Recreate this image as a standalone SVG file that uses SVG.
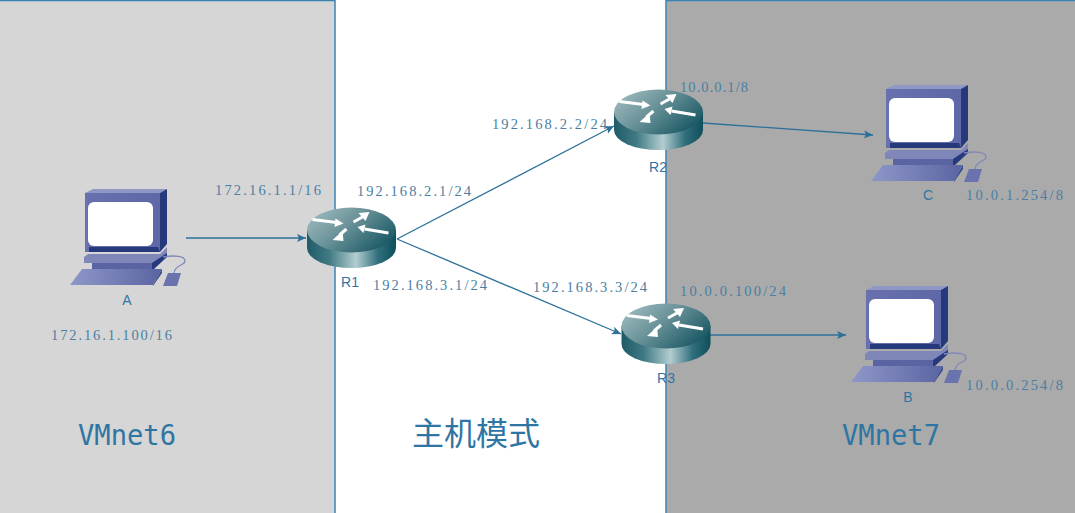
<svg xmlns="http://www.w3.org/2000/svg" width="1075" height="513" viewBox="0 0 1075 513">
<style>
.ip{font-family:"Liberation Serif","Noto Sans CJK SC",serif;font-size:14.5px;fill:#4a7fa3}
.nm{font-family:"Liberation Sans","Noto Sans CJK SC",sans-serif;font-size:14px;fill:#2f75a3;text-anchor:middle}
.big{font-family:"DejaVu Sans Mono","Noto Sans CJK SC",monospace;font-size:28px;fill:#2f75a3}
.cjk{font-family:"Noto Sans CJK SC",sans-serif;font-size:32px;fill:#2f75a3}
.panel{stroke:#3b83b5;stroke-width:1.5}
.cn{stroke:#2d7199;stroke-width:1.3;fill:none;marker-end:url(#arr)}
.ra{stroke:#fff;stroke-width:3;fill:none}
</style>
<defs>
<marker id="arr" markerUnits="userSpaceOnUse" markerWidth="10" markerHeight="10" refX="9" refY="4" orient="auto"><path d="M0 0L9 4L0 8L2 4Z" fill="#2d7199"/></marker>
<linearGradient id="rs" x1="0" x2="1" y1="0" y2="0"><stop offset="0" stop-color="#1f5a68"/><stop offset=".25" stop-color="#3f7a84"/><stop offset=".55" stop-color="#b3cdd0"/><stop offset=".8" stop-color="#2f6e7a"/><stop offset="1" stop-color="#0f4f5c"/></linearGradient>
<linearGradient id="rt" x1="0" x2="1" y1="0" y2="0.6"><stop offset="0" stop-color="#a7c2c5"/><stop offset=".5" stop-color="#6b9399"/><stop offset="1" stop-color="#1f5c68"/></linearGradient>
<linearGradient id="pf" x1="0" x2="1" y1="0" y2="0"><stop offset="0" stop-color="#6870ae"/><stop offset="1" stop-color="#5f68a6"/></linearGradient>
<linearGradient id="pk" x1="0" x2="1" y1="0" y2="0"><stop offset="0" stop-color="#8f97c8"/><stop offset="1" stop-color="#5a64a2"/></linearGradient>
<g id="router">
<path d="M-44.500 0V18A44.500 20 0 0 0 44.500 18V0Z" fill="url(#rs)"/>
<ellipse rx="44.500" ry="22.500" fill="url(#rt)"/>
<path class="ra" d="M-39-10.500L-15-7.500"/><path d="M-16-11.500L-8-6.500L-17-3Z" fill="#fff"/>
<path class="ra" d="M37 3L13-1"/><path d="M14-5.500L6-3L12 3Z" fill="#fff"/>
<path class="ra" d="M2-8L11-13"/><path d="M7-17L18-18L14-9Z" fill="#fff"/>
<path class="ra" d="M-5-1L-12 5"/><path d="M-9 1L-19 10L-8 11Z" fill="#fff"/>
</g>
<g id="pc">
<path d="M15 4L23 0H97L90 4Z" fill="#8f97c4"/>
<path d="M90 4L97 0V55L90 63Z" fill="#25397c"/>
<path d="M15 4H90V63H15Z" fill="url(#pf)"/>
<rect x="18" y="13" width="65" height="44" rx="6" fill="#fff"/>
<path d="M19 58H88L90 63H19Z" fill="#25397c"/>
<path d="M14 68L18 65H90L97 58V64L87 74H14Z" fill="#7f87b9"/>
<path d="M22 74H82V80H22Z" fill="#5a64a2"/>
<path d="M82 74L97 64V68L84 80H82Z" fill="#25397c"/>
<path d="M12 80H92L83 96H0Z" fill="url(#pk)"/>
<path d="M92 80V84L83 97V96Z" fill="#3a4a8c"/>
<path d="M93 68C105 66 115 67 115 72C115 77 105 75 104 84" fill="none" stroke="#8088bb" stroke-width="1.300"/>
<path d="M98 84H111L107 97H93Z" fill="#6a73ad"/>
</g>
</defs>
<rect x="-2" y="0.500" width="337" height="515" fill="#d6d6d6" class="panel"/>
<rect x="666" y="0.500" width="411" height="515" fill="#aaaaaa" class="panel"/>
<g id="connectors">
<path class="cn" d="M186 238H306"/>
<path class="cn" d="M397 239L614 126"/>
<path class="cn" d="M397 239L621 334"/>
<path class="cn" d="M703 123L873 135"/>
<path class="cn" d="M710 335H846"/>
</g>
<g id="A"><use href="#pc" x="70" y="189"/><text class="nm" x="127" y="305">A</text></g>
<g id="C"><use href="#pc" x="871" y="85"/><text class="nm" x="928" y="200">C</text></g>
<g id="B"><use href="#pc" x="851" y="286"/><text class="nm" x="908" y="402">B</text></g>
<g id="R1"><use href="#router" x="351.500" y="230"/><text class="nm" x="350" y="287">R1</text></g>
<g id="R2"><use href="#router" x="658.500" y="112"/><text class="nm" x="658" y="172">R2</text></g>
<g id="R3"><use href="#router" x="666" y="326"/><text class="nm" x="666" y="383">R3</text></g>
<g id="labels">
<text class="ip" x="215" y="195" textLength="106">172.16.1.1/16</text>
<text class="ip" x="51" y="340" textLength="121">172.16.1.100/16</text>
<text class="ip" x="357" y="196" textLength="114">192.168.2.1/24</text>
<text class="ip" x="373" y="290" textLength="114">192.168.3.1/24</text>
<text class="ip" x="492" y="129" textLength="115">192.168.2.2/24</text>
<text class="ip" x="533" y="292" textLength="114">192.168.3.3/24</text>
<text class="ip" x="680" y="92" textLength="68">10.0.0.1/8</text>
<text class="ip" x="680" y="296" textLength="106">10.0.0.100/24</text>
<text class="ip" x="966" y="200" textLength="97">10.0.1.254/8</text>
<text class="ip" x="966" y="390" textLength="97">10.0.0.254/8</text>
<text class="big" x="78" y="445" textLength="98" lengthAdjust="spacingAndGlyphs">VMnet6</text>
<text class="cjk" x="412" y="445">主机模式</text>
<text class="big" x="842" y="445" textLength="98" lengthAdjust="spacingAndGlyphs">VMnet7</text>
</g>
</svg>
